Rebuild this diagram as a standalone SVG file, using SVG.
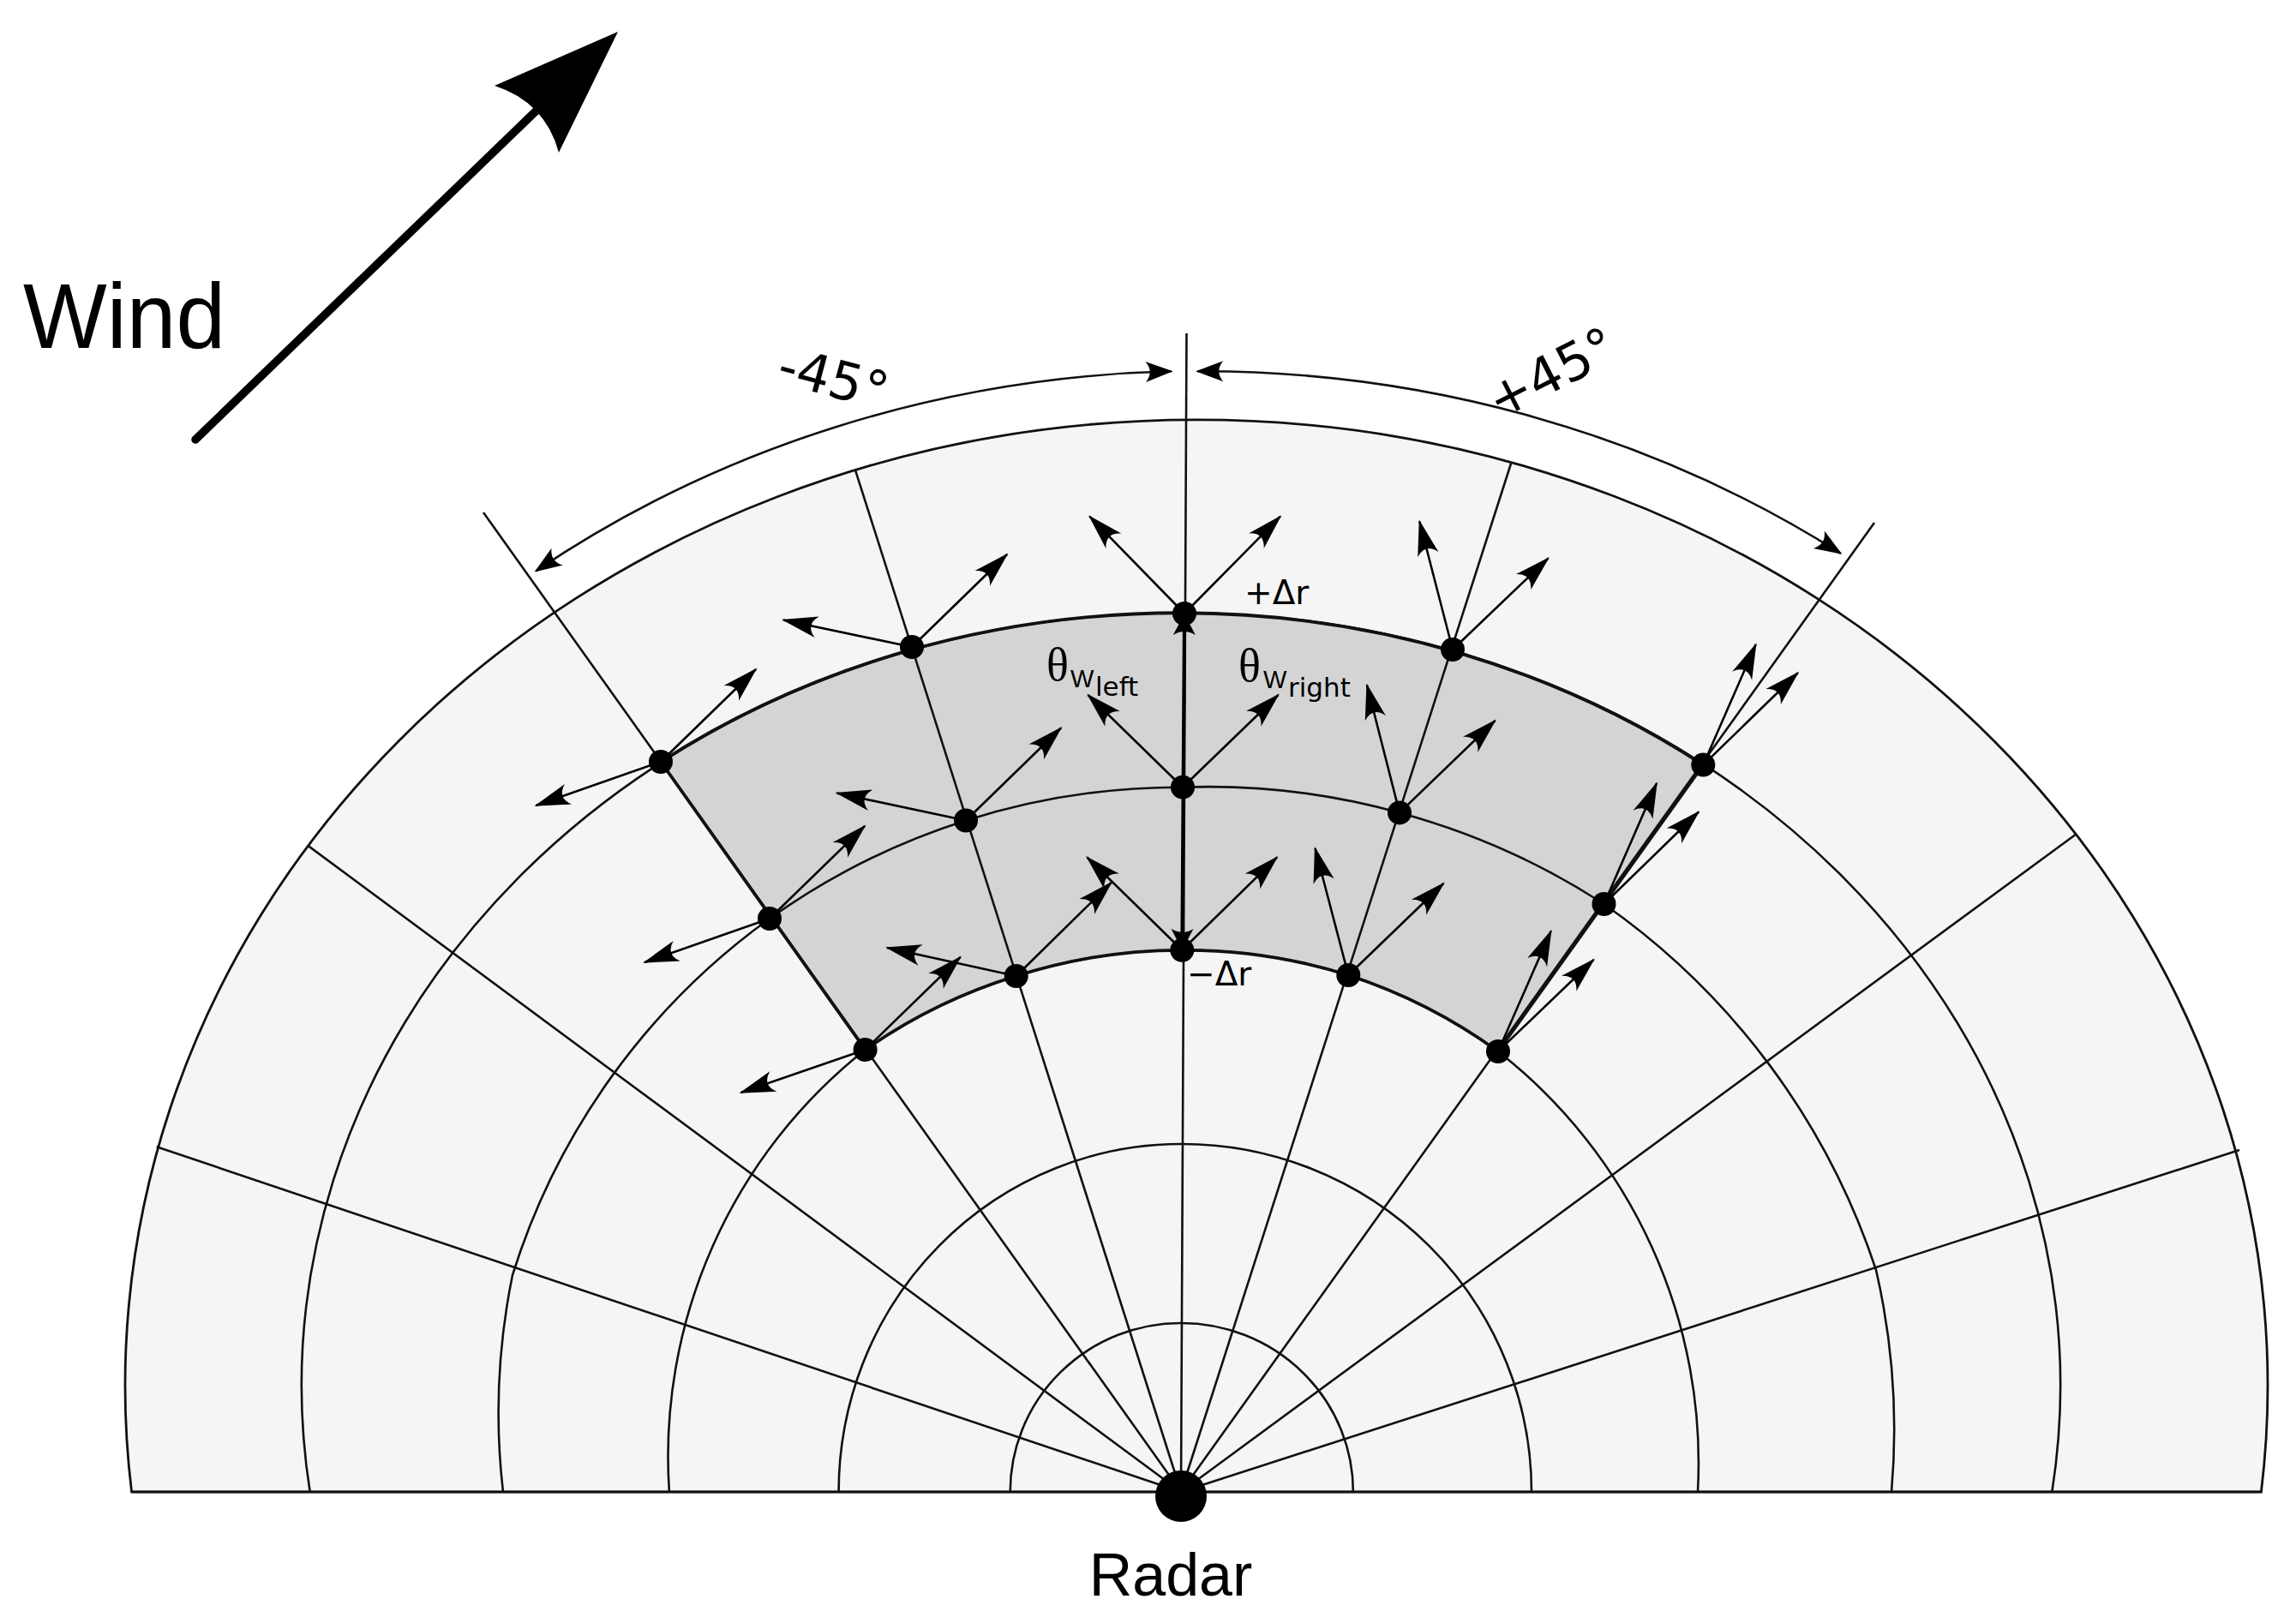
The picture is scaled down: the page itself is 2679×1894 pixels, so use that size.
<svg xmlns="http://www.w3.org/2000/svg" width="2679" height="1894" viewBox="0 0 2679 1894">
<defs>
<style>
.grid{fill:none;stroke:#111;stroke-width:2.6}
.outline{fill:none;stroke:#111;stroke-width:3.8;stroke-linejoin:round}
.vec{fill:none;stroke:#000;stroke-width:2.6;marker-end:url(#ah)}
.dim{fill:none;stroke:#111;stroke-width:2.6;marker-start:url(#ah2);marker-end:url(#ah2)}
.dot{fill:#000}
.sans{font-family:"DejaVu Sans",sans-serif;fill:#000}
.lib{font-family:"Liberation Sans",Arial,sans-serif;fill:#000}
.serif{font-family:"Liberation Serif","DejaVu Serif",serif;fill:#000}
</style>
<marker id="ah" markerUnits="userSpaceOnUse" viewBox="-45 -15 50 30" markerWidth="50" markerHeight="30" refX="0" refY="0" orient="auto" overflow="visible"><path d="M2,0 L-40,-12.5 Q-26,0 -40,12.5 Z" fill="#000"/></marker>
<marker id="ah2" markerUnits="userSpaceOnUse" viewBox="-35 -14 40 28" markerWidth="40" markerHeight="28" refX="0" refY="0" orient="auto-start-reverse" overflow="visible"><path d="M2,0 L-30,-12 Q-20,0 -30,12 Z" fill="#000"/></marker>
<marker id="ah3" markerUnits="userSpaceOnUse" viewBox="-30 -15 35 30" markerWidth="35" markerHeight="30" refX="0" refY="0" orient="auto-start-reverse" overflow="visible"><path d="M0,0 L-25,-13 Q-17,0 -25,13 Z" fill="#000"/></marker>
</defs>

<g id="background">
<path d="M153.6,1741 A1250,1127 0 1 1 2638.4,1741 Z" fill="#f5f5f5" stroke="#111" stroke-width="2.8"/>
</g>

<g id="shaded-region">
<path d="M771,889 A1026,902 0 0 1 1987.3,892.6 L1748,1227 A630,630 0 0 0 1573.3,1138 A632,632 0 0 0 1379.3,1108.8 A632,632 0 0 0 1185.7,1139 A625,625 0 0 0 1009.6,1225 Z" fill="#d4d4d4"/>
</g>

<g id="grid">
<path class="grid" d="M1178.7,1741 A199.3,197 0 0 1 1378,1544 A200.9,197 0 0 1 1578.9,1741"/>
<path class="grid" d="M978.6,1741 A399.4,406 0 0 1 1379,1335 A408,406 0 0 1 1787,1741"/>
<path class="grid" d="M780.9,1741 A605,605 0 0 1 1009.6,1225 A625,625 0 0 1 1185.7,1139 A632,632 0 0 1 1379.3,1108.8 A632,632 0 0 1 1573.3,1138 A630,630 0 0 1 1748,1227 A610,610 0 0 1 1981,1741"/>
<path class="grid" d="M587,1741 A800,800 0 0 1 598,1488 A810,810 0 0 1 898,1072 A822,822 0 0 1 1127,957.5 A822,822 0 0 1 1380,918.7 A835,835 0 0 1 1633,948.4 A840,840 0 0 1 1871.5,1055 A845,845 0 0 1 2189,1482 A830,830 0 0 1 2207,1741"/>
<path class="grid" d="M361.7,1741 A1026,902 0 1 1 2394.3,1741"/>
<line class="grid" x1="153.6" y1="1741" x2="2638.4" y2="1741" stroke-width="3"/>
<line class="grid" x1="1378" y1="1741" x2="182.7" y2="1338.3"/>
<line class="grid" x1="1378" y1="1741" x2="359.7" y2="987.1"/>
<line class="grid" x1="1378" y1="1741" x2="564" y2="598"/>
<line class="grid" x1="1378" y1="1741" x2="998" y2="548.6"/>
<line class="grid" x1="1378" y1="1741" x2="1384.5" y2="389"/>
<line class="grid" x1="1378" y1="1741" x2="1763" y2="541"/>
<line class="grid" x1="1378" y1="1741" x2="2187" y2="610"/>
<line class="grid" x1="1378" y1="1741" x2="2422.3" y2="973.5"/>
<line class="grid" x1="1378" y1="1741" x2="2613" y2="1342"/>
</g>

<g id="shaded-outline">
<path class="outline" d="M771,889 A1026,902 0 0 1 1987.3,892.6 L1748,1227 A630,630 0 0 0 1573.3,1138 A632,632 0 0 0 1379.3,1108.8 A632,632 0 0 0 1185.7,1139 A625,625 0 0 0 1009.6,1225 Z"/>
</g>

<g id="connectors">
<path class="dim" d="M625.3,666.4 A1303,1184 0 0 1 1366.7,433.3"/>
<path class="dim" d="M1397.2,433.3 A1303,1184 0 0 1 2147.7,645.8"/>
<line x1="1379.3" y1="1108.8" x2="1382" y2="716" stroke="#000" stroke-width="4" marker-start="url(#ah3)" marker-end="url(#ah3)"/>
<line x1="228" y1="513" x2="628" y2="127" stroke="#000" stroke-width="9.5" stroke-linecap="round"/>
<path d="M721,37 L577,100 Q636,119 652,178 Z" fill="#000"/>
<line class="vec" x1="771" y1="889" x2="882" y2="781"/>
<line class="vec" x1="771" y1="889" x2="625.3" y2="940"/>
<line class="vec" x1="898" y1="1072" x2="1009" y2="964"/>
<line class="vec" x1="898" y1="1072" x2="752" y2="1123"/>
<line class="vec" x1="1009.6" y1="1225" x2="1120.6" y2="1117"/>
<line class="vec" x1="1009.6" y1="1225" x2="864.5" y2="1275"/>
<line class="vec" x1="1064" y1="755" x2="1175" y2="647"/>
<line class="vec" x1="1064" y1="755" x2="914" y2="723.5"/>
<line class="vec" x1="1127" y1="957.5" x2="1238" y2="849.5"/>
<line class="vec" x1="1127" y1="957.5" x2="976.5" y2="925.5"/>
<line class="vec" x1="1185.7" y1="1139" x2="1296.7" y2="1030"/>
<line class="vec" x1="1185.7" y1="1139" x2="1035" y2="1106"/>
<line class="vec" x1="1382" y1="716" x2="1493.9" y2="602.7"/>
<line class="vec" x1="1382" y1="716" x2="1271.4" y2="602.7"/>
<line class="vec" x1="1380" y1="918.7" x2="1491.5" y2="811"/>
<line class="vec" x1="1380" y1="918.7" x2="1269.5" y2="811"/>
<line class="vec" x1="1379.3" y1="1108.8" x2="1490" y2="1000.5"/>
<line class="vec" x1="1379.3" y1="1108.8" x2="1268.5" y2="1000.5"/>
<line class="vec" x1="1695" y1="758" x2="1806.5" y2="651.5"/>
<line class="vec" x1="1695" y1="758" x2="1656.3" y2="608.5"/>
<line class="vec" x1="1633" y1="948.4" x2="1744.5" y2="841"/>
<line class="vec" x1="1633" y1="948.4" x2="1595" y2="799.5"/>
<line class="vec" x1="1573.3" y1="1138" x2="1684.3" y2="1031"/>
<line class="vec" x1="1573.3" y1="1138" x2="1534.5" y2="990"/>
<line class="vec" x1="1987.3" y1="892.6" x2="2097.8" y2="785.2"/>
<line class="vec" x1="1987.3" y1="892.6" x2="2048.7" y2="752"/>
<line class="vec" x1="1871.5" y1="1055" x2="1982" y2="947.5"/>
<line class="vec" x1="1871.5" y1="1055" x2="1933" y2="914"/>
<line class="vec" x1="1748" y1="1227" x2="1859.5" y2="1120"/>
<line class="vec" x1="1748" y1="1227" x2="1809.7" y2="1086.5"/>
</g>

<g id="nodes">
<g id="radar"><circle class="dot" cx="1378" cy="1746" r="30"/></g>
<g id="node-54-outer"><circle class="dot" cx="771" cy="889" r="14"/></g>
<g id="node-54-mid"><circle class="dot" cx="898" cy="1072" r="14"/></g>
<g id="node-54-inner"><circle class="dot" cx="1009.6" cy="1225" r="14"/></g>
<g id="node-72-outer"><circle class="dot" cx="1064" cy="755" r="14"/></g>
<g id="node-72-mid"><circle class="dot" cx="1127" cy="957.5" r="14"/></g>
<g id="node-72-inner"><circle class="dot" cx="1185.7" cy="1139" r="14"/></g>
<g id="node-90-outer"><circle class="dot" cx="1382" cy="716" r="14"/></g>
<g id="node-90-mid"><circle class="dot" cx="1380" cy="918.7" r="14"/></g>
<g id="node-90-inner"><circle class="dot" cx="1379.3" cy="1108.8" r="14"/></g>
<g id="node-108-outer"><circle class="dot" cx="1695" cy="758" r="14"/></g>
<g id="node-108-mid"><circle class="dot" cx="1633" cy="948.4" r="14"/></g>
<g id="node-108-inner"><circle class="dot" cx="1573.3" cy="1138" r="14"/></g>
<g id="node-126-outer"><circle class="dot" cx="1987.3" cy="892.6" r="14"/></g>
<g id="node-126-mid"><circle class="dot" cx="1871.5" cy="1055" r="14"/></g>
<g id="node-126-inner"><circle class="dot" cx="1748" cy="1227" r="14"/></g>
</g>

<g id="labels">
<text class="lib" x="27" y="406" font-size="108" textLength="236" lengthAdjust="spacingAndGlyphs">Wind</text>
<text class="lib" x="1366" y="1862" font-size="70" text-anchor="middle">Radar</text>
<text class="sans" font-size="61" text-anchor="middle" transform="translate(967,462) rotate(15)">-45°</text>
<text class="sans" font-size="61" text-anchor="middle" transform="translate(1820,454) rotate(-27)">+45°</text>
<text class="sans" x="1452" y="705" font-size="39">+Δr</text>
<text class="sans" x="1385" y="1150" font-size="39">−Δr</text>
<text><tspan class="serif" x="1221" y="794" font-size="54">θ</tspan><tspan class="lib" x="1249" y="802" font-size="29">W</tspan><tspan class="sans" x="1278" y="812" font-size="31">left</tspan></text>
<text><tspan class="serif" x="1445" y="795" font-size="54">θ</tspan><tspan class="lib" x="1474" y="803" font-size="29">W</tspan><tspan class="sans" x="1503" y="813" font-size="31">right</tspan></text>
</g>
</svg>
